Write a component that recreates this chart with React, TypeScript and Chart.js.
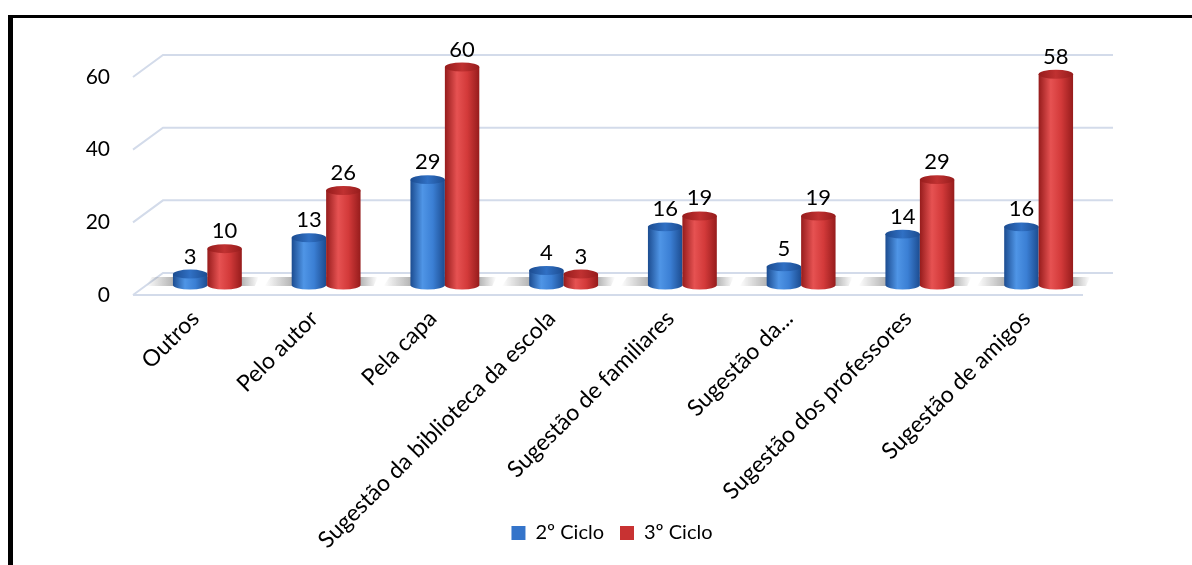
import React, { useEffect, useRef } from "react";
import { Chart, registerables } from "chart.js";

Chart.register(...registerables);

const categories = [
  "Outros",
  "Pelo autor",
  "Pela capa",
  "Sugestão da biblioteca da escola",
  "Sugestão de familiares",
  "Sugestão da...",
  "Sugestão dos professores",
  "Sugestão de amigos",
];
const ciclo2 = [3, 13, 29, 4, 16, 5, 14, 16];
const ciclo3 = [10, 26, 60, 3, 19, 19, 29, 58];
const seriesNames = ["2º Ciclo", "3º Ciclo"];
const yTicks = [0, 20, 40, 60];

const FONT = "Lato";
const W = 1192;
const H = 565;

const palettes = [
  { dark: "#1c4c90", light: "#4f95e6", mid: "#3b7fd4", top: "#3070c4", legend: "#3474ca" },
  { dark: "#961c1c", light: "#e65252", mid: "#d33a3a", top: "#c03131", legend: "#c83232" },
];

const FRONT_DX = -15;
const FRONT_DY = 10;
const BACK_DX = 15;
const BACK_DY = -12;

function drawCylinder(ctx: CanvasRenderingContext2D, cx: number, top: number, base: number, w: number, c: any) {
  const l = cx - w / 2;
  const r = cx + w / 2;
  const ry = Math.max(3, w * 0.13);
  const g = ctx.createLinearGradient(l, 0, r, 0);
  g.addColorStop(0, c.dark);
  g.addColorStop(0.35, c.light);
  g.addColorStop(0.65, c.mid);
  g.addColorStop(1, c.dark);
  ctx.fillStyle = g;
  ctx.beginPath();
  ctx.moveTo(l, top);
  ctx.lineTo(l, base);
  ctx.ellipse(cx, base, w / 2, ry, 0, Math.PI, 0, true);
  ctx.lineTo(r, top);
  ctx.closePath();
  ctx.fill();
  const tg = ctx.createLinearGradient(l, 0, r, 0);
  tg.addColorStop(0, c.dark);
  tg.addColorStop(0.5, c.top);
  tg.addColorStop(1, c.dark);
  ctx.fillStyle = tg;
  ctx.beginPath();
  ctx.ellipse(cx, top, w / 2, ry, 0, 0, Math.PI * 2);
  ctx.fill();
  return ry;
}

const plugin3d = {
  id: "plugin3d",
  beforeDatasetsDraw(chart: any) {
    const { ctx, chartArea, scales } = chart;
    const { left, right } = chartArea;
    const y = scales.y;
    ctx.save();
    ctx.strokeStyle = "#d3dbea";
    ctx.lineWidth = 2;
    yTicks.forEach((v) => {
      const py = y.getPixelForValue(v);
      ctx.beginPath();
      ctx.moveTo(left + FRONT_DX, py + FRONT_DY);
      ctx.lineTo(left + BACK_DX, py + BACK_DY);
      ctx.lineTo(right + BACK_DX, py + BACK_DY);
      ctx.stroke();
    });
    const p0 = y.getPixelForValue(0);
    ctx.beginPath();
    ctx.moveTo(left + FRONT_DX, p0 + FRONT_DY);
    ctx.lineTo(right + FRONT_DX, p0 + FRONT_DY);
    ctx.stroke();

    // floor shadows
    const m0 = chart.getDatasetMeta(0);
    const m1 = chart.getDatasetMeta(1);
    m0.data.forEach((b: any, i: number) => {
      const b2 = m1.data[i];
      const xl = b.x - b.width / 2;
      const xr = b2.x + b2.width / 2;
      const x0 = xl - 27;
      const x1 = xr + 17;
      const g = ctx.createLinearGradient(x0, 0, x1, 0);
      g.addColorStop(0, "rgba(90,90,90,0)");
      g.addColorStop((xl - x0) / (x1 - x0), "rgba(90,90,90,0.45)");
      g.addColorStop((xr - x0) / (x1 - x0), "rgba(90,90,90,0.45)");
      g.addColorStop(1, "rgba(90,90,90,0)");
      ctx.fillStyle = g;
      ctx.beginPath();
      ctx.moveTo(x0 + 6, p0 - 8);
      ctx.lineTo(x1, p0 - 8);
      ctx.lineTo(x1 - 4, p0 + 1);
      ctx.lineTo(x0, p0 + 1);
      ctx.closePath();
      ctx.fill();
    });
    ctx.restore();
  },
  beforeDatasetDraw() {
    return false;
  },
  afterDatasetsDraw(chart: any) {
    const { ctx } = chart;
    ctx.save();
    [0, 1].forEach((di) => {
      const meta = chart.getDatasetMeta(di);
      const vals = chart.data.datasets[di].data;
      meta.data.forEach((b: any, i: number) => {
        const ry = drawCylinder(ctx, b.x, b.y, b.base, b.width, palettes[di]);
        ctx.fillStyle = "#000";
        ctx.font = `22px ${FONT}`;
        ctx.textAlign = "center";
        ctx.textBaseline = "alphabetic";
        ctx.fillText(String(vals[i]), b.x, b.y - ry - 6);
      });
    });
    ctx.restore();
  },
};

export default function App() {
  const ref = useRef<HTMLCanvasElement | null>(null);
  useEffect(() => {
    if (!ref.current) return;
    const chart = new Chart(ref.current, {
      type: "bar",
      data: {
        labels: categories,
        datasets: [
          { label: seriesNames[0], data: ciclo2, backgroundColor: palettes[0].legend, borderWidth: 0 },
          { label: seriesNames[1], data: ciclo3, backgroundColor: palettes[1].legend, borderWidth: 0 },
        ],
      },
      options: {
        responsive: false,
        animation: false,
        devicePixelRatio: 1,
        layout: { padding: { left: 32, right: 0, top: 67, bottom: 12 } },
        datasets: { bar: { barPercentage: 1, categoryPercentage: 0.58 } },
        plugins: {
          legend: {
            position: "bottom",
            labels: {
              font: { family: FONT, size: 20 },
              color: "#000",
              boxWidth: 14,
              boxHeight: 14,
              padding: 16,
            },
          },
          tooltip: { enabled: false },
        },
        scales: {
          x: {
            grid: { display: false },
            border: { display: false },
            ticks: {
              font: { family: FONT, size: 23 },
              color: "#000",
              minRotation: 45,
              maxRotation: 45,
              autoSkip: false,
              padding: 12,
              labelOffset: -12,
            },
            afterFit: (s: any) => {
              const lh = s.chart.legend && isFinite(s.chart.legend.height) ? s.chart.legend.height : 40;
              s.height = H - 12 - lh - 285;
              s._computeLabelArea = () => undefined;
            },
          },
          y: {
            min: 0,
            max: 60,
            grid: { display: false },
            border: { display: false },
            ticks: {
              stepSize: 20,
              font: { family: FONT, size: 21 },
              color: "#000",
              padding: 30,
              labelOffset: 10,
            },
            afterFit: (s: any) => {
              s.width = 116;
            },
          },
          yRight: {
            type: "linear",
            position: "right",
            min: 0,
            max: 60,
            grid: { display: false },
            border: { display: false },
            ticks: { display: false },
            afterFit: (s: any) => {
              s.width = 94;
            },
          },
        },
      },
      plugins: [plugin3d],
    });
    return () => chart.destroy();
  }, []);
  return (
    <div>
      <canvas
        ref={ref}
        width={W}
        height={H}
        style={{ position: "absolute", left: 0, top: 0, width: W, height: H, display: "block" }}
      />
      <div
        style={{
          position: "absolute",
          left: 8,
          top: 15,
          width: W - 8,
          height: H - 15,
          boxSizing: "border-box",
          borderLeft: "5px solid #000",
          borderTop: "3px solid #000",
          pointerEvents: "none",
        }}
      />
    </div>
  );
}
